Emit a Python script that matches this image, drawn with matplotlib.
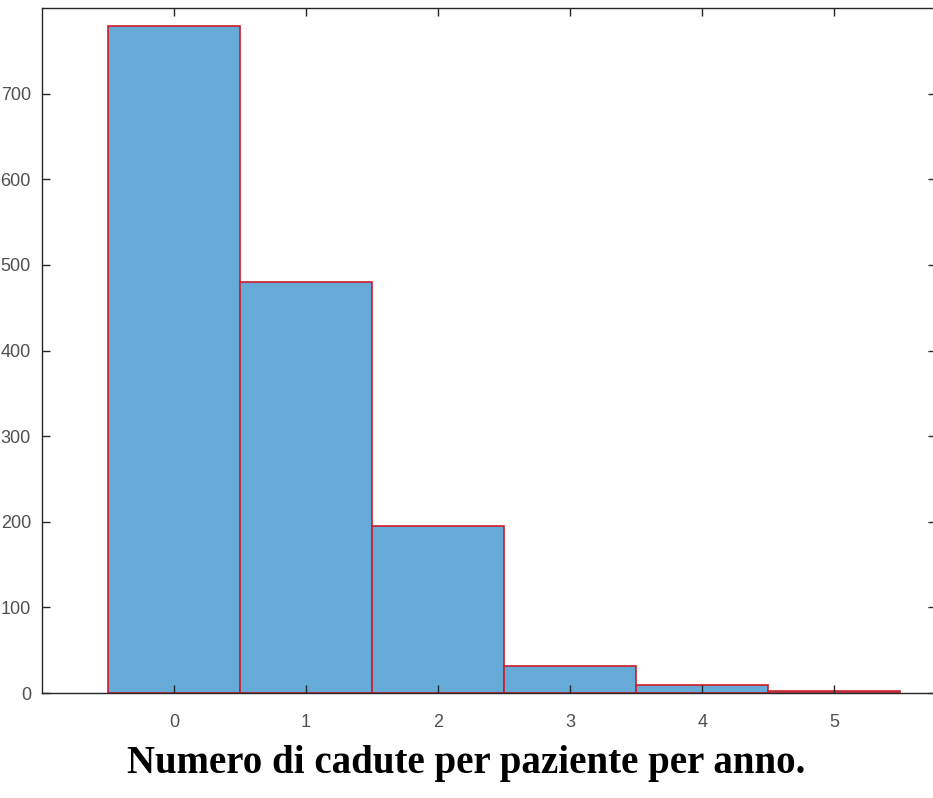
import matplotlib
matplotlib.use("Agg")
import matplotlib.pyplot as plt

# falls per patient per year -> number of patients
cadute = [0, 1, 2, 3, 4, 5]
pazienti = [779, 480, 195, 32, 9, 2]
y_ticks = [0, 100, 200, 300, 400, 500, 600, 700]

W, H = 933, 798
fig = plt.figure(figsize=(W / 100, H / 100), dpi=100)
# axes slightly wider than the figure: right spine sits just past the edge
ax = fig.add_axes([42 / W, (H - 693) / H, (936 - 42) / W, (693 - 8) / H])

ax.bar(cadute, pazienti, width=1.0, color='#66aad7',
       edgecolor='#d01a2a', linewidth=1.2)

ax.set_xlim(-1, 5.77)
ax.set_ylim(0, 800)
ax.set_xticks(cadute)
ax.set_yticks(y_ticks)

grey = '#505050'
ax.tick_params(direction='in', length=6, width=1, color='#262626',
               top=True, right=True, labelsize=13, labelcolor=grey)
ax.tick_params(axis='x', pad=15)
ax.tick_params(axis='y', pad=8)
for lab in ax.get_xticklabels() + ax.get_yticklabels():
    lab.set_fontfamily('Liberation Sans')
for s in ax.spines.values():
    s.set_color('#262626')
    s.set_linewidth(1)

fig.text(0.5, (H - 763) / H, 'Numero di cadute per paziente per anno.',
         ha='center', va='center', fontsize=28, fontweight='bold',
         family='Liberation Serif')

fig.savefig('out.png', dpi=100)
